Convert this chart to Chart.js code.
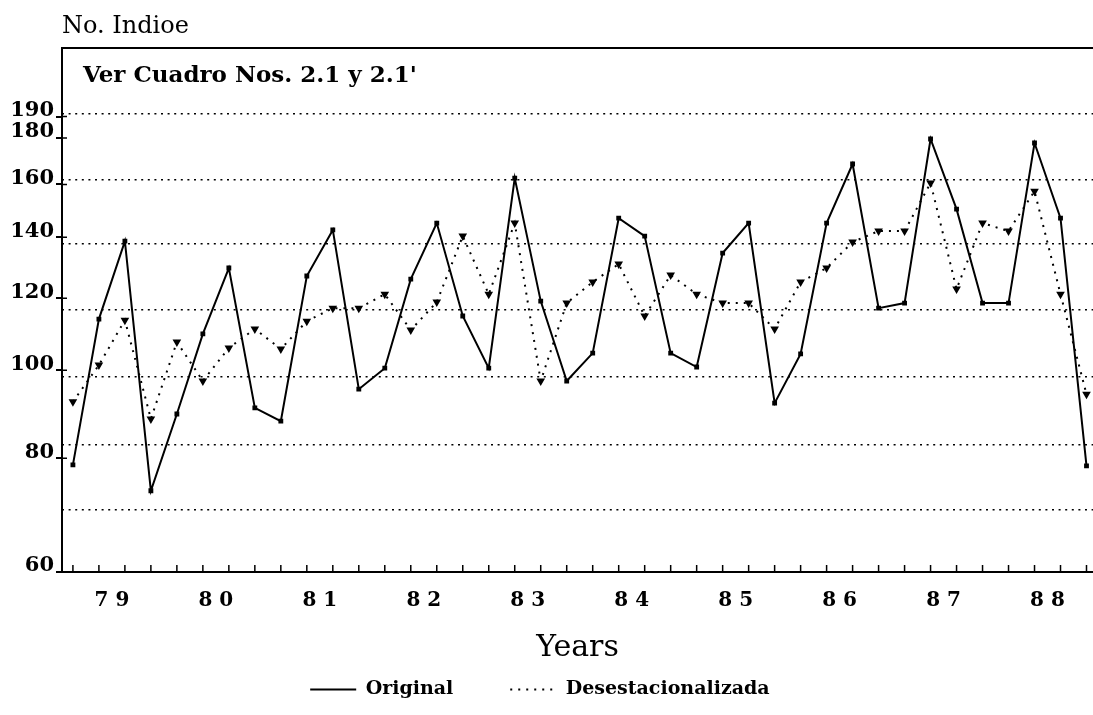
<!DOCTYPE html>
<html>
<head>
<meta charset="utf-8">
<script src="https://cdn.jsdelivr.net/npm/chart.js@4.4.1/dist/chart.umd.min.js"></script>
<style>
  html, body { margin: 0; padding: 0; background: #fff; }
</style>
</head>
<body>
<canvas id="grafico" width="1093" height="715"></canvas>
<script>
// Años (trimestral, 4 puntos por año)
const years = ['79', '80', '81', '82', '83', '84', '85', '86', '87', '88'];
const quarters = [];
years.forEach(y => { for (let q = 1; q <= 4; q++) quarters.push(y + '-' + q); });

// Series
const original = [
  78.7, 113.8, 138.6, 73.7,
  89.5, 109.6, 129.5, 90.9,
  87.9, 126.9, 142.6, 95.3,
  100.5, 125.9, 145.1, 114.7,
  100.5, 162.6, 119.1, 97.3,
  104.4, 146.9, 140.4, 104.4,
  100.8, 134.5, 145.1, 92.0,
  104.2, 145.1, 168.5, 117.0,
  118.5, 179.5, 150.3, 118.5,
  118.5, 177.7, 146.9, 78.5
];
const desestacionalizada = [
  92.3, 101.3, 113.5, 88.4,
  107.4, 97.3, 105.8, 111.0,
  105.5, 113.2, 117.0, 117.0,
  121.2, 110.7, 118.8, 140.4,
  121.2, 145.1, 97.3, 118.5,
  125.0, 130.8, 114.7, 127.2,
  121.2, 118.5, 118.5, 111.0,
  125.0, 129.5, 138.3, 142.2,
  142.2, 160.6, 122.8, 145.1,
  142.2, 157.3, 121.2, 94.1
];

// Etiquetas del eje Y y líneas punteadas de la cuadrícula
const yTickValues = [60, 80, 100, 120, 140, 160, 180, 190];
const gridValues = [70.2, 82.9, 98.3, 116.5, 137.6, 161.8, 191.2];

const ejeTitulo = 'No. Indioe';
const nota = "Ver Cuadro Nos. 2.1 y 2.1'";

const toPoints = arr => arr.map((v, i) => ({ x: i, y: v }));

// Textos y marcas pequeñas de los ejes
const extras = {
  id: 'extras',
  afterDraw(chart) {
    const { ctx, chartArea, scales } = chart;
    ctx.save();
    ctx.fillStyle = '#000';
    ctx.strokeStyle = '#000';
    ctx.textBaseline = 'alphabetic';
    ctx.textAlign = 'left';
    ctx.font = '24px "DejaVu Serif"';
    ctx.fillText(ejeTitulo, chartArea.left, 33);
    ctx.font = 'bold 23px "DejaVu Serif"';
    ctx.fillText(nota, chartArea.left + 21, 82);

    // marcas trimestrales hacia arriba
    ctx.lineWidth = 1.5;
    ctx.beginPath();
    quarters.forEach((q, i) => {
      const x = scales.x.getPixelForValue(i);
      ctx.moveTo(x, chartArea.bottom);
      ctx.lineTo(x, chartArea.bottom - 7);
    });
    // marcas del eje Y hacia dentro
    yTickValues.forEach(v => {
      const y = scales.y.getPixelForValue(v);
      ctx.moveTo(chartArea.left, y);
      ctx.lineTo(chartArea.left + 5, y);
    });
    ctx.stroke();
    ctx.restore();
  }
};

const chart = new Chart(document.getElementById('grafico').getContext('2d'), {
  type: 'line',
  data: {
    datasets: [
      {
        label: 'Original',
        data: toPoints(original),
        borderColor: '#000',
        backgroundColor: '#000',
        borderWidth: 2,
        pointStyle: 'rect',
        pointRadius: 2,
        pointBackgroundColor: '#000',
        tension: 0,
        xAxisID: 'x',
        yAxisID: 'y'
      },
      {
        label: 'Desestacionalizada',
        data: toPoints(desestacionalizada),
        borderColor: '#000',
        backgroundColor: '#000',
        borderWidth: 2,
        borderDash: [2, 6],
        pointStyle: 'triangle',
        rotation: 180,
        pointRadius: 3,
        pointBackgroundColor: '#000',
        tension: 0,
        xAxisID: 'x',
        yAxisID: 'y'
      }
    ]
  },
  options: {
    responsive: false,
    animation: false,
    devicePixelRatio: 1,
    layout: { autoPadding: false, padding: { top: 48, left: 0, right: 0, bottom: 6 } },
    scales: {
      x: {
        type: 'linear',
        position: 'bottom',
        min: -0.42,
        max: 39.25,
        afterBuildTicks: s => { s.ticks = years.map((y, k) => ({ value: 4 * k + 1.5 })); },
        ticks: {
          autoSkip: false,
          maxRotation: 0,
          color: '#000',
          padding: 17,
          font: { family: 'DejaVu Serif', weight: 'bold', size: 20 },
          callback: (v, i) => years[i].split('').join(' ')
        },
        grid: { display: false, drawTicks: false },
        border: { display: true, color: '#000', width: 2 },
        title: {
          display: true,
          text: 'Years',
          color: '#000',
          font: { family: 'DejaVu Serif', size: 30 },
          padding: { top: 0, bottom: 10 }
        },
        afterFit: s => { s.height = s.chart.height - 572 - 6 - (s.chart.legend ? s.chart.legend.height : 0); }
      },
      xTop: {
        type: 'linear',
        position: 'top',
        min: -0.42,
        max: 39.25,
        ticks: { display: false },
        grid: { display: false, drawTicks: false },
        border: { display: true, color: '#000', width: 2 },
        afterFit: s => { s.height = 0; }
      },
      y: {
        type: 'logarithmic',
        position: 'left',
        min: 60,
        max: 226,
        afterBuildTicks: s => { s.ticks = yTickValues.map(v => ({ value: v })); },
        ticks: {
          autoSkip: false,
          color: '#000',
          padding: 2,
          labelOffset: -6,
          font: { family: 'DejaVu Serif', weight: 'bold', size: 21 },
          callback: v => String(v)
        },
        grid: { drawOnChartArea: false, drawTicks: true, tickLength: 6, color: '#000', lineWidth: 2 },
        border: { display: true, color: '#000', width: 2 },
        afterFit: s => { s.width = 62; }
      },
      yGrid: {
        type: 'logarithmic',
        position: 'left',
        min: 60,
        max: 226,
        afterBuildTicks: s => { s.ticks = gridValues.map(v => ({ value: v })); },
        ticks: { display: false },
        grid: { drawTicks: false, color: '#000', lineWidth: 1.5 },
        border: { display: false, dash: [2, 4.6] },
        afterFit: s => { s.width = 0; }
      }
    },
    plugins: {
      title: { display: false },
      tooltip: { enabled: false },
      legend: {
        display: true,
        position: 'bottom',
        labels: {
          usePointStyle: true,
          pointStyle: 'line',
          pointStyleWidth: 46,
          padding: 4,
          color: '#000',
          font: { family: 'DejaVu Serif', weight: 'bold', size: 19 },
          generateLabels: c => Chart.defaults.plugins.legend.labels.generateLabels(c).map((it, i) => {
            it.text = it.text + (i === 0 ? '        ' : '  ');
            it.lineDash = c.data.datasets[i].borderDash || [];
            it.lineWidth = 2;
            return it;
          })
        }
      }
    }
  },
  plugins: [extras]
});
</script>
</body>
</html>
